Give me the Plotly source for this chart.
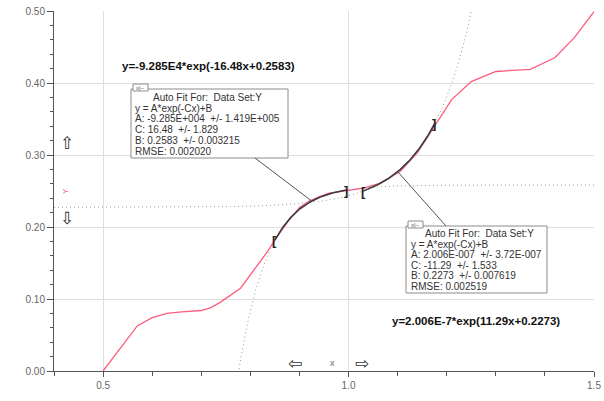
import numpy as np
import plotly.graph_objects as go

# Measured data set Y
x_data = [0.50, 0.57, 0.60, 0.63, 0.66, 0.70, 0.72, 0.74, 0.78, 0.81, 0.835, 0.85,
          0.876, 0.90, 0.92, 0.94, 0.96, 1.00, 1.03, 1.065, 1.105, 1.14, 1.175,
          1.21, 1.25, 1.30, 1.37, 1.42, 1.46, 1.50]
y_data = [0.000, 0.063, 0.074, 0.080, 0.082, 0.084, 0.088, 0.096, 0.115, 0.142, 0.166, 0.182,
          0.207, 0.227, 0.236, 0.242, 0.247, 0.251, 0.254, 0.261, 0.277, 0.303, 0.340,
          0.377, 0.402, 0.416, 0.419, 0.435, 0.463, 0.499]

# Auto fit results, model y = A*exp(-Cx)+B
fit1_params = {"A": -9.285e4, "C": 16.48, "B": 0.2583}
fit1_range = [0.85, 0.995]
fit2_params = {"A": 2.006e-7, "C": -11.29, "B": 0.2273}
fit2_range = [1.03, 1.175]

fit1_text = ["Auto Fit For:  Data Set:Y", "y = A*exp(-Cx)+B",
             "A: -9.285E+004  +/- 1.419E+005", "C: 16.48  +/- 1.829",
             "B: 0.2583  +/- 0.003215", "RMSE: 0.002020"]
fit2_text = ["Auto Fit For:  Data Set:Y", "y = A*exp(-Cx)+B",
             "A: 2.006E-007  +/- 3.72E-007", "C: -11.29  +/- 1.533",
             "B: 0.2273  +/- 0.007619", "RMSE: 0.002519"]
eq1_label = "y=-9.285E4*exp(-16.48x+0.2583)"
eq2_label = "y=2.006E-7*exp(11.29x+0.2273)"

x_ticks = [0.5, 1.0, 1.5]
y_ticks = [0.0, 0.1, 0.2, 0.3, 0.4, 0.5]

X_RANGE = [0.4, 1.5]
Y_RANGE = [0.0, 0.5]
W, H = 604, 401
ML, MR, MT, MB = 54, 10, 11, 30


def model(p, x):
    return p["A"] * np.exp(-p["C"] * x) + p["B"]


def px_x(px):
    return X_RANGE[0] + (px - ML) / (W - ML - MR) * (X_RANGE[1] - X_RANGE[0])


def px_y(py):
    return Y_RANGE[0] + (H - MB - py) / (H - MT - MB) * (Y_RANGE[1] - Y_RANGE[0])


fig = go.Figure()

xs = np.linspace(X_RANGE[0], X_RANGE[1], 1500)
for p in (fit1_params, fit2_params):
    ys = model(p, xs)
    mask = (ys > -0.05) & (ys < 0.55)
    fig.add_trace(go.Scatter(x=xs[mask], y=ys[mask], mode="lines",
                             line=dict(color="#9a9a9a", width=1, dash="1px,3px"),
                             hoverinfo="skip", showlegend=False))

fig.add_trace(go.Scatter(x=x_data, y=y_data, mode="lines",
                         line=dict(color="#ff5c7c", width=1.3),
                         showlegend=False, name="Y"))

for p, r in ((fit1_params, fit1_range), (fit2_params, fit2_range)):
    xf = np.linspace(r[0], r[1], 120)
    fig.add_trace(go.Scatter(x=xf, y=model(p, xf), mode="lines",
                             line=dict(color="#3c3c3c", width=1.6),
                             hoverinfo="skip", showlegend=False))

annotations = []
shapes = []

# fit range brackets
for p, r in ((fit1_params, fit1_range), (fit2_params, fit2_range)):
    for xv, ch in ((r[0], "["), (r[1], "]")):
        annotations.append(dict(x=xv, y=float(model(p, xv)), xref="x", yref="y",
                                text="<b>%s</b>" % ch, showarrow=False,
                                font=dict(family="Liberation Sans, Arial", size=13, color="#222"),
                                xanchor="center", yanchor="middle"))


def fit_box(left, top, right, bottom, title_x, body_x, line_ys, lines):
    shapes.append(dict(type="rect", xref="x", yref="y",
                       x0=px_x(left), x1=px_x(right), y0=px_y(bottom), y1=px_y(top),
                       line=dict(color="#8c8c8c", width=1), fillcolor="white", layer="above"))
    # small close/minimise icon on the box corner
    shapes.append(dict(type="rect", xref="x", yref="y",
                       x0=px_x(left + 2), x1=px_x(left + 17), y0=px_y(top + 2), y1=px_y(top - 5),
                       line=dict(color="#8c8c8c", width=1), fillcolor="white", layer="above"))
    annotations.append(dict(x=px_x(left + 9.5), y=px_y(top - 1.5), xref="x", yref="y",
                            text="x|\u2013", showarrow=False,
                            font=dict(family="Liberation Sans, Arial", size=6, color="#555"),
                            xanchor="center", yanchor="middle"))
    for i, (ly, t) in enumerate(zip(line_ys, lines)):
        annotations.append(dict(x=px_x(title_x if i == 0 else body_x), y=px_y(ly),
                                xref="x", yref="y", text=t, showarrow=False,
                                font=dict(family="Liberation Sans, Arial", size=10, color="#333"),
                                xanchor="left", yanchor="middle"))


fit_box(131, 89, 288, 158, 151, 133, [97, 108, 118.5, 129.5, 140, 151], fit1_text)
fit_box(406, 226, 547, 293, 423, 409, [233, 244, 254.5, 265, 275.5, 286], fit2_text)

# leader lines from the boxes to their fits
shapes.append(dict(type="line", xref="x", yref="y", x0=px_x(255), y0=px_y(158),
                   x1=0.925, y1=float(model(fit1_params, 0.925)),
                   line=dict(color="#555", width=1)))
shapes.append(dict(type="line", xref="x", yref="y", x0=1.10, y0=float(model(fit2_params, 1.10)),
                   x1=px_x(446), y1=px_y(226), line=dict(color="#555", width=1)))

annotations.append(dict(x=px_x(208), y=px_y(66), xref="x", yref="y", text="<b>%s</b>" % eq1_label,
                        showarrow=False, font=dict(family="Liberation Sans, Arial", size=11.5, color="#111"),
                        xanchor="center", yanchor="middle"))
annotations.append(dict(x=px_x(476), y=px_y(321), xref="x", yref="y", text="<b>%s</b>" % eq2_label,
                        showarrow=False, font=dict(family="Liberation Sans, Arial", size=11.5, color="#111"),
                        xanchor="center", yanchor="middle"))

# axis titles with scroll arrows
annotations += [
    dict(x=14 / W, y=1 - 147 / H, xref="paper", yref="paper", text="\u21e7", showarrow=False,
         font=dict(family="DejaVu Sans", size=17, color="#333"), xanchor="center", yanchor="middle"),
    dict(x=14 / W, y=1 - 231 / H, xref="paper", yref="paper", text="\u21e9", showarrow=False,
         font=dict(family="DejaVu Sans", size=17, color="#333"), xanchor="center", yanchor="middle"),
    dict(x=13 / W, y=1 - 201 / H, xref="paper", yref="paper", text="Y", showarrow=False, textangle=-90,
         font=dict(family="Liberation Sans, Arial", size=8, color="#ff5c7c"), xanchor="center", yanchor="middle"),
    dict(x=270 / W, y=1 - 392 / H, xref="paper", yref="paper", text="\u21e6", showarrow=False,
         font=dict(family="DejaVu Sans", size=17, color="#333"), xanchor="center", yanchor="middle"),
    dict(x=344 / W, y=1 - 392 / H, xref="paper", yref="paper", text="\u21e8", showarrow=False,
         font=dict(family="DejaVu Sans", size=17, color="#333"), xanchor="center", yanchor="middle"),
    dict(x=312 / W, y=1 - 392 / H, xref="paper", yref="paper", text="x", showarrow=False,
         font=dict(family="Liberation Sans, Arial", size=9, color="#666"), xanchor="center", yanchor="middle"),
]

fig.update_layout(
    width=W, height=H,
    margin=dict(l=ML, r=MR, t=MT, b=MB, autoexpand=False),
    paper_bgcolor="white", plot_bgcolor="white",
    showlegend=False,
    annotations=annotations, shapes=shapes,
    font=dict(family="Liberation Sans, Arial", size=10, color="#666"),
)
fig.update_xaxes(range=X_RANGE, tickvals=x_ticks, ticktext=["%.1f" % v for v in x_ticks],
                 automargin=False,
                 showgrid=True, gridcolor="#dedede", gridwidth=1,
                 showline=True, linecolor="#555", linewidth=1,
                 ticks="outside", ticklen=5, tickcolor="#555",
                 minor=dict(dtick=0.1, tick0=0.4, ticks="outside", ticklen=4, tickcolor="#555", showgrid=False),
                 zeroline=False, tickfont=dict(size=10, color="#666"))
fig.update_yaxes(range=Y_RANGE, tickvals=y_ticks, ticktext=["%.2f" % v for v in y_ticks],
                 automargin=False,
                 showgrid=True, gridcolor="#dedede", gridwidth=1,
                 showline=True, linecolor="#555", linewidth=1,
                 ticks="outside", ticklen=6, tickcolor="#555",
                 minor=dict(dtick=0.02, tick0=0, ticks="outside", ticklen=3, tickcolor="#555", showgrid=False),
                 zeroline=False, tickfont=dict(size=10, color="#666"))

fig.write_html("out.html")
